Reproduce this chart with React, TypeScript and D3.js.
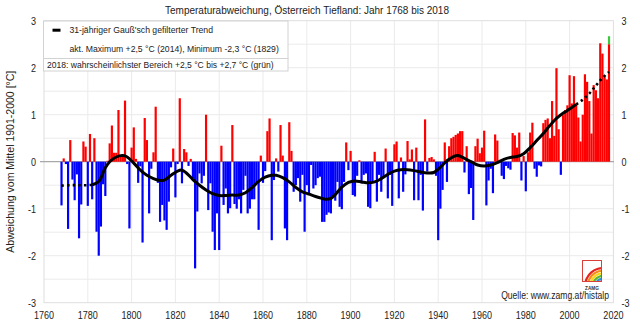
import React from "react";
import * as d3 from "d3";

const START_YEAR = 1768;
// annual anomalies (°C vs 1901-2000), 1768..2018
const anomalies = [
  -0.93, 0.07, -0.05, -1.43, 0.46, -0.38, -0.82, -0.27, -1.63, -0.91, 0.43, 0.32,
  -0.94, 0.59, -0.8, 0.5, -1.49, -2.0, -1.38, -0.48, -0.73, 0.02,
  0.39, 0.77, 0.19, 0.19, 1.1, 0.1, 0.1, 1.3, -0.05, -1.42,
  0.3, 0.73, 0.06, -0.45, -0.1, -1.72, 0.93, 0.46, -1.1, -0.15,
  0.2, 1.17, -0.45, -1.28, -0.92, -1.25, -1.45, -0.85, -0.12, 0.28,
  -0.76, -0.05, 1.35, -0.46, 0.27, 0.2, -0.09, 0.06, -0.35, -2.27,
  -1.06, -0.25, -0.46, -0.3, 1.0, -1.03, -0.46, -1.49, -1.88, -1.1,
  -1.88, 0.34, -0.92, -0.57, -1.1, -0.99, 0.78, -0.9, -1.0, -0.8,
  -1.1, -0.6, -0.3, -1.1, -1.0, -0.8, -0.8, -0.45, -1.45, 0.13,
  -0.45, -0.2, 0.65, 0.92, -1.67, -0.39, 0.07, -0.21, 0.78, 0.13,
  -1.42, -1.67, 0.84, 0.23, -0.64, -0.5, -0.35, -0.85, -0.28, -1.49,
  -0.5, -0.71, -0.07, -0.57, -0.5, -0.35, -0.32, -1.28, -1.28, -1.13,
  -1.08, -1.1, -0.76, -0.83, -0.43, -0.96, -1.01, -0.43, 0.41, -0.18,
  0.23, -0.71, -0.74, -0.3, 0.03, -0.46, -0.28, -0.25, -0.96, -0.99,
  -0.43, 0.21, -0.85, -0.28, -0.64, -0.35, 0.28, -0.78, -0.28, -0.94,
  0.37, 0.43, -0.78, 0.09, -0.64, -0.27, 0.44, 0.05, 0.26, -0.82,
  0.3, -0.82, -0.28, -1.04, 0.9, -0.21, 0.08, 0.1, 0.05, -0.3,
  -1.67, -1.0, -0.6, 0.41, -0.43, 0.33, 0.5, 0.53, 0.57, 0.6,
  0.65, 0.65, -0.23, 0.33, -0.69, -0.56, -1.24, 0.33, 0.49, 0.18,
  0.3, 0.66, -0.93, -0.4, -0.15, -0.67, 0.58, 0.45, 0.04, -0.3,
  -0.37, -0.09, -0.14, -0.17, 0.61, 0.56, 0.3, 0.62, -0.4, 0.12,
  -0.63, 0.2, 0.62, 0.83, -0.15, -0.32, -0.08, -0.1, 0.82, 0.89,
  0.92, 0.5, 1.29, 0.55, 1.99, 0.69, -0.28, 0.99, 1.1, 1.2,
  1.84, 1.24, 1.82, 1.22, 0.94, 0.43, 1.0, 1.86, 1.7, 1.29,
  0.6, 1.63, 1.52, 1.35, 2.52, 2.3, 1.8, 1.75, 2.5,
];
const greenYear = 2018;
const greenRange = [2.5, 2.67];

const trendYears = [
  1768, 1772, 1776, 1780, 1782, 1785, 1788, 1790, 1793, 1796, 1798, 1801, 1804, 1807,
  1810, 1813, 1815, 1818, 1821, 1823, 1825, 1828, 1831, 1834, 1837, 1840, 1843, 1846,
  1849, 1852, 1855, 1858, 1861, 1864, 1866, 1869, 1872, 1875, 1878, 1881, 1884, 1887,
  1889, 1891, 1893, 1896, 1899, 1902, 1905, 1908, 1911, 1914, 1917, 1920, 1923, 1926,
  1929, 1932, 1935, 1938, 1941, 1944, 1947, 1949, 1952, 1955, 1958, 1961, 1964, 1967,
  1970, 1973, 1976, 1979, 1982, 1985, 1988, 1991, 1994, 1997, 2000, 2003, 2006, 2009,
  2012, 2015, 2018,
];
const trendValues = [
  -0.51, -0.5, -0.5, -0.5, -0.49, -0.42, -0.13, 0.0, 0.1, 0.13, 0.1, -0.03, -0.18, -0.29,
  -0.36, -0.4, -0.39, -0.29, -0.2, -0.18, -0.24, -0.38, -0.5, -0.6, -0.68, -0.72, -0.72, -0.71,
  -0.71, -0.66, -0.55, -0.42, -0.33, -0.29, -0.29, -0.34, -0.43, -0.55, -0.64, -0.69, -0.74, -0.78,
  -0.8, -0.78, -0.7, -0.54, -0.44, -0.41, -0.43, -0.45, -0.43, -0.36, -0.27, -0.2, -0.17, -0.17,
  -0.19, -0.22, -0.24, -0.23, -0.12, 0.02, 0.11, 0.13, 0.07, 0.0, -0.07, -0.09, -0.07, -0.02,
  0.05, 0.09, 0.11, 0.17, 0.3, 0.45, 0.6, 0.77, 0.92, 1.03, 1.12, 1.22, 1.32, 1.45,
  1.62, 1.78, 1.91,
];
const solidFrom = 1782;
const solidTo = 2003;

const xTicks = [1760, 1780, 1800, 1820, 1840, 1860, 1880, 1900, 1920, 1940, 1960, 1980, 2000, 2020];
const yTicks = [-3, -2, -1, 0, 1, 2, 3];
const yGrid = [-2.5, -2, -1.5, -1, -0.5, 0.5, 1, 1.5, 2, 2.5];

const TITLE = "Temperaturabweichung, Österreich Tiefland: Jahr 1768 bis 2018";
const LEG_TREND = "31-jähriger Gauß'sch gefilterter Trend";
const LEG_MAX = "akt. Maximum +2,5 °C (2014), Minimum -2,3 °C (1829)";
const LEG_2018 = "2018: wahrscheinlichster Bereich +2,5 °C bis +2,7 °C (grün)";
const Y_TITLE = "Abweichung vom Mittel 1901-2000 [°C]";
const SOURCE = "Quelle: www.zamg.at/histalp";

const FONT = "'Liberation Sans', Arial, sans-serif";
const SX = 0.86;

function Txt({ x, y, anchor = "start", size = 10.5, fill = "#222", children, weight }: any) {
  return (
    <text
      transform={`translate(${x},${y}) scale(${SX},1)`}
      textAnchor={anchor}
      fontSize={size}
      fontFamily={FONT}
      fill={fill}
      fontWeight={weight}
    >
      {children}
    </text>
  );
}

export default function App() {
  const W = 640, H = 326;
  const x = d3.scaleLinear().domain([1760, 2020]).range([44, 613.4]);
  const y = d3.scaleLinear().domain([-3, 3]).range([302.7, 20.7]);
  const bw = x(1761) - x(1760);

  const pts: [number, number][] = trendYears.map((yr, i) => [yr, trendValues[i]]);
  const line = d3
    .line<[number, number]>()
    .x((d) => x(d[0]))
    .y((d) => y(d[1]))
    .curve(d3.curveCatmullRom.alpha(0.5));
  const leftPts = pts.filter((p) => p[0] <= solidFrom);
  const midPts = pts.filter((p) => p[0] >= solidFrom && p[0] <= solidTo);
  const rightPts = pts.filter((p) => p[0] >= solidTo);

  const arcGen = d3.arc();
  const rainbow = ["#e52420", "#f28c1c", "#f7d417", "#5cb531", "#2f8fd6", "#7b3fa0"];

  return (
    <svg
      width={W}
      height={H}
      style={{ position: "absolute", left: 0, top: 0, background: "#fff" }}
      fontFamily={FONT}
    >
      <rect x={0} y={0} width={W} height={H} fill="#fff" />
      {/* title */}
      <text
        x={307}
        y={14.3}
        textAnchor="middle"
        fontSize={10.5}
        fontFamily={FONT}
        fill="#222"
        textLength={284}
        lengthAdjust="spacingAndGlyphs"
      >
        {TITLE}
      </text>

      {/* grid */}
      {yGrid.map((v) => (
        <line key={"gy" + v} x1={x(1760)} x2={x(2020)} y1={y(v)} y2={y(v)} stroke="#ebebeb" strokeWidth={1} />
      ))}
      {xTicks.slice(1, -1).map((t) => (
        <line key={"gx" + t} x1={x(t)} x2={x(t)} y1={y(3)} y2={y(-3)} stroke="#ebebeb" strokeWidth={1} />
      ))}
      <rect
        x={x(1760)}
        y={y(3)}
        width={x(2020) - x(1760)}
        height={y(-3) - y(3)}
        fill="none"
        stroke="#dedede"
        strokeWidth={1}
      />

      {/* zero line */}
      <line x1={40} x2={614} y1={y(0)} y2={y(0)} stroke="#a8a8a8" strokeWidth={1.2} />

      {/* bars */}
      {anomalies.map((v, i) => {
        const yr = START_YEAR + i;
        const y0 = y(0);
        const y1 = y(v);
        return (
          <rect
            key={yr}
            x={x(yr) - bw / 2}
            y={Math.min(y0, y1)}
            width={bw}
            height={Math.abs(y1 - y0)}
            fill={v >= 0 ? "#ff0000" : "#0000ff"}
          />
        );
      })}
      <rect
        x={x(greenYear) - bw / 2}
        y={y(greenRange[1])}
        width={bw}
        height={y(greenRange[0]) - y(greenRange[1])}
        fill="#3cc83c"
      />

      {/* trend */}
      <path d={line(leftPts) || ""} fill="none" stroke="#000" strokeWidth={2.6} strokeDasharray="2.4 3.2" />
      <path d={line(midPts) || ""} fill="none" stroke="#000" strokeWidth={3} strokeLinejoin="round" />
      <path d={line(rightPts) || ""} fill="none" stroke="#000" strokeWidth={2.6} strokeDasharray="2.4 3.2" />

      {/* legend */}
      <rect x={43.5} y={21} width={244.5} height={37.5} fill="#fff" stroke="#d2d2d2" strokeWidth={1} />
      <rect x={43.5} y={58.5} width={244.5} height={12.5} fill="#fff" stroke="#d2d2d2" strokeWidth={1} />
      <line x1={52.5} x2={60.5} y1={30.2} y2={30.2} stroke="#000" strokeWidth={3} />
      <text x={69.4} y={33.4} fontSize={9.5} fontFamily={FONT} fill="#222" textLength={143.6} lengthAdjust="spacingAndGlyphs">
        {LEG_TREND}
      </text>
      <text x={69.4} y={52.4} fontSize={9.5} fontFamily={FONT} fill="#222" textLength={209.4} lengthAdjust="spacingAndGlyphs">
        {LEG_MAX}
      </text>
      <text x={47} y={67.6} fontSize={9.5} fontFamily={FONT} fill="#222" textLength={226.5} lengthAdjust="spacingAndGlyphs">
        {LEG_2018}
      </text>

      {/* y ticks */}
      {yTicks.map((t) => (
        <g key={"yt" + t}>
          <Txt x={36} y={y(t) + 3.8} anchor="end">{String(t)}</Txt>
          <Txt x={621.5} y={y(t) + 3.8} anchor="start">{String(t)}</Txt>
        </g>
      ))}
      {/* x ticks */}
      {xTicks.map((t) => (
        <Txt key={"xt" + t} x={x(t)} y={318.5} anchor="middle">{String(t)}</Txt>
      ))}

      {/* y title */}
      <text
        transform={`translate(13.5,${y(0)}) rotate(-90)`}
        textAnchor="middle"
        fontSize={10}
        fontFamily={FONT}
        fill="#222"
        textLength={182}
        lengthAdjust="spacingAndGlyphs"
      >
        {Y_TITLE}
      </text>

      {/* logo */}
      <defs>
        <clipPath id="logoClip">
          <rect x={582.5} y={260.5} width={19} height={21} />
        </clipPath>
      </defs>
      <g clipPath="url(#logoClip)">
        {rainbow.map((c, i) => (
          <path
            key={c}
            transform="translate(603,286)"
            d={
              arcGen({
                innerRadius: 19 - i * 2.6 - 2.2,
                outerRadius: 19 - i * 2.6,
                startAngle: -Math.PI / 2,
                endAngle: 0.15,
              } as any) || ""
            }
            fill={c}
          />
        ))}
      </g>
      <rect x={582.5} y={260.5} width={19} height={21} fill="none" stroke="#d9403a" strokeWidth={1} />
      <Txt x={592} y={289.5} anchor="middle" size={5.5} weight="bold" fill="#333">ZAMG</Txt>

      {/* source */}
      <Txt x={609} y={299} anchor="end" size={10}>{SOURCE}</Txt>
    </svg>
  );
}
